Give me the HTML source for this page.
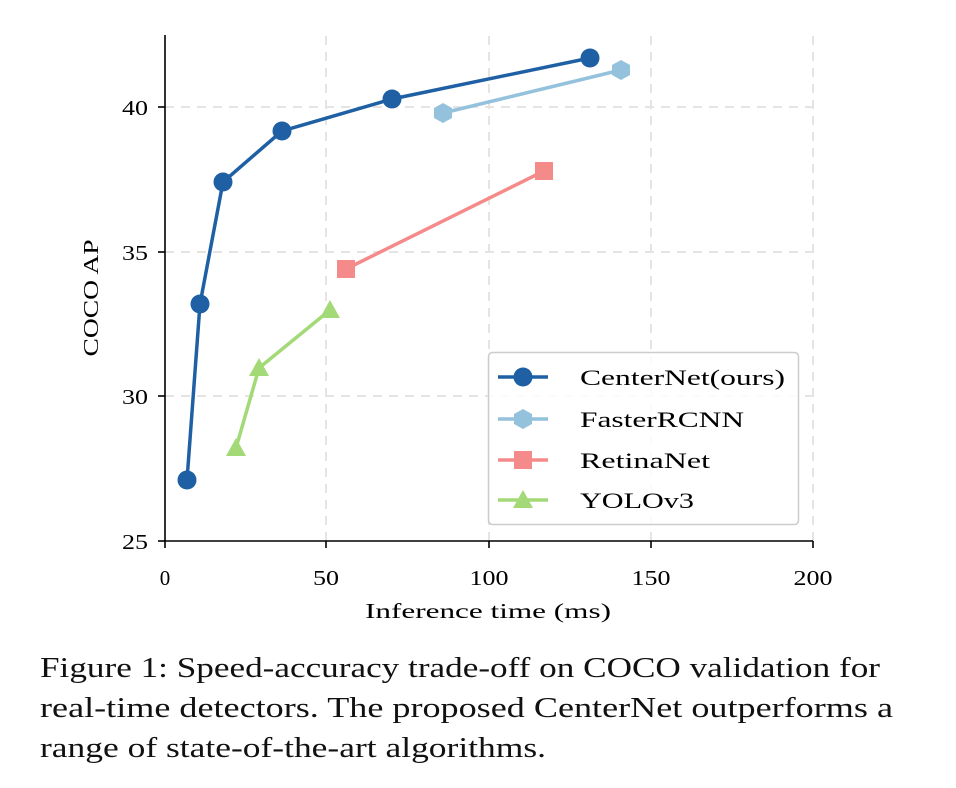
<!DOCTYPE html>
<html><head><meta charset="utf-8"><style>
body{margin:0;background:#fff;width:956px;height:788px;overflow:hidden}
svg{position:absolute;left:0;top:0}
</style></head><body>
<svg width="956" height="788" font-family="Liberation Serif, DejaVu Serif, serif">
<g stroke="#e6e4e0" stroke-width="2" stroke-dasharray="9,7">
<line x1="326" y1="36" x2="326" y2="541"/><line x1="489" y1="36" x2="489" y2="541"/><line x1="651" y1="36" x2="651" y2="541"/><line x1="813" y1="36" x2="813" y2="541"/>
<line x1="165" y1="107" x2="813" y2="107"/><line x1="165" y1="252" x2="813" y2="252"/><line x1="165" y1="396" x2="813" y2="396"/>
</g>
<g stroke="#000" stroke-width="1.6">
<line x1="165" y1="35" x2="165" y2="542"/><line x1="164" y1="541" x2="813" y2="541"/>
<line x1="158" y1="107" x2="165" y2="107"/><line x1="158" y1="252" x2="165" y2="252"/><line x1="158" y1="396" x2="165" y2="396"/><line x1="158" y1="541" x2="165" y2="541"/>
<line x1="165" y1="541" x2="165" y2="548"/><line x1="326" y1="541" x2="326" y2="548"/><line x1="489" y1="541" x2="489" y2="548"/><line x1="651" y1="541" x2="651" y2="548"/><line x1="813" y1="541" x2="813" y2="548"/>
</g>
<g font-size="21" text-anchor="end">
<text x="148" y="115" textLength="26" lengthAdjust="spacingAndGlyphs">40</text><text x="148" y="260" textLength="26" lengthAdjust="spacingAndGlyphs">35</text><text x="148" y="404" textLength="26" lengthAdjust="spacingAndGlyphs">30</text><text x="148" y="549" textLength="26" lengthAdjust="spacingAndGlyphs">25</text>
</g>
<g font-size="21" text-anchor="middle">
<text x="165" y="585">0</text><text x="326" y="585" textLength="26" lengthAdjust="spacingAndGlyphs">50</text><text x="489" y="585" textLength="39" lengthAdjust="spacingAndGlyphs">100</text><text x="651" y="585" textLength="39" lengthAdjust="spacingAndGlyphs">150</text><text x="813" y="585" textLength="39" lengthAdjust="spacingAndGlyphs">200</text>
<text x="488" y="618" textLength="246" lengthAdjust="spacingAndGlyphs">Inference time (ms)</text>
<text transform="translate(98,298) rotate(-90)" textLength="117" lengthAdjust="spacingAndGlyphs">COCO AP</text>
</g>
<polyline points="236,448 259,368 330,310" fill="none" stroke="#a3d977" stroke-width="3.5"/>
<g fill="#a3d977"><polygon points="236,438 246,456 226,456"/><polygon points="259,358 269,376 249,376"/><polygon points="330,300 340,318 320,318"/></g>
<polyline points="346,269 544,171" fill="none" stroke="#f58a8a" stroke-width="3.5"/>
<g fill="#f58a8a"><rect x="337" y="260" width="18" height="18"/><rect x="535" y="162" width="18" height="18"/></g>
<polyline points="443,113 621,70" fill="none" stroke="#94c1dc" stroke-width="3.5"/>
<g fill="#94c1dc"><polygon points="443,103 452,108 452,118 443,123 434,118 434,108"/><polygon points="621,60 630,65 630,75 621,80 612,75 612,65"/></g>
<polyline points="187,480 200,304 223,182 282,131 392,99 590,58" fill="none" stroke="#1f60a5" stroke-width="3.5"/>
<g fill="#1f60a5"><circle cx="187" cy="480" r="9.5"/><circle cx="200" cy="304" r="9.5"/><circle cx="223" cy="182" r="9.5"/><circle cx="282" cy="131" r="9.5"/><circle cx="392" cy="99" r="9.5"/><circle cx="590" cy="58" r="9.5"/></g>
<rect x="488.5" y="352.5" width="310" height="172" rx="4" fill="#fff" fill-opacity="0.85" stroke="#ccc" stroke-width="1.5"/>
<line x1="498" y1="377" x2="548" y2="377" stroke="#1f60a5" stroke-width="3.5"/><circle cx="523" cy="377" r="9.5" fill="#1f60a5"/>
<line x1="498" y1="419" x2="548" y2="419" stroke="#94c1dc" stroke-width="3.5"/><polygon points="523,409 532,414 532,424 523,429 514,424 514,414" fill="#94c1dc"/>
<line x1="498" y1="460" x2="548" y2="460" stroke="#f58a8a" stroke-width="3.5"/><rect x="514" y="451" width="18" height="18" fill="#f58a8a"/>
<line x1="498" y1="500" x2="548" y2="500" stroke="#a3d977" stroke-width="3.5"/><polygon points="523,490 533,508 513,508" fill="#a3d977"/>
<g font-size="22">
<text x="580" y="385" textLength="205" lengthAdjust="spacingAndGlyphs">CenterNet(ours)</text>
<text x="580" y="427" textLength="164" lengthAdjust="spacingAndGlyphs">FasterRCNN</text>
<text x="580" y="468" textLength="130" lengthAdjust="spacingAndGlyphs">RetinaNet</text>
<text x="580" y="508" textLength="114" lengthAdjust="spacingAndGlyphs">YOLOv3</text>
</g>
<g font-size="29" fill="#111">
<text x="40" y="677" textLength="840" lengthAdjust="spacingAndGlyphs">Figure 1: Speed-accuracy trade-off on COCO validation for</text>
<text x="40" y="717" textLength="853" lengthAdjust="spacingAndGlyphs">real-time detectors. The proposed CenterNet outperforms a</text>
<text x="40" y="757" textLength="506" lengthAdjust="spacingAndGlyphs">range of state-of-the-art algorithms.</text>
</g>
</svg>
</body></html>
